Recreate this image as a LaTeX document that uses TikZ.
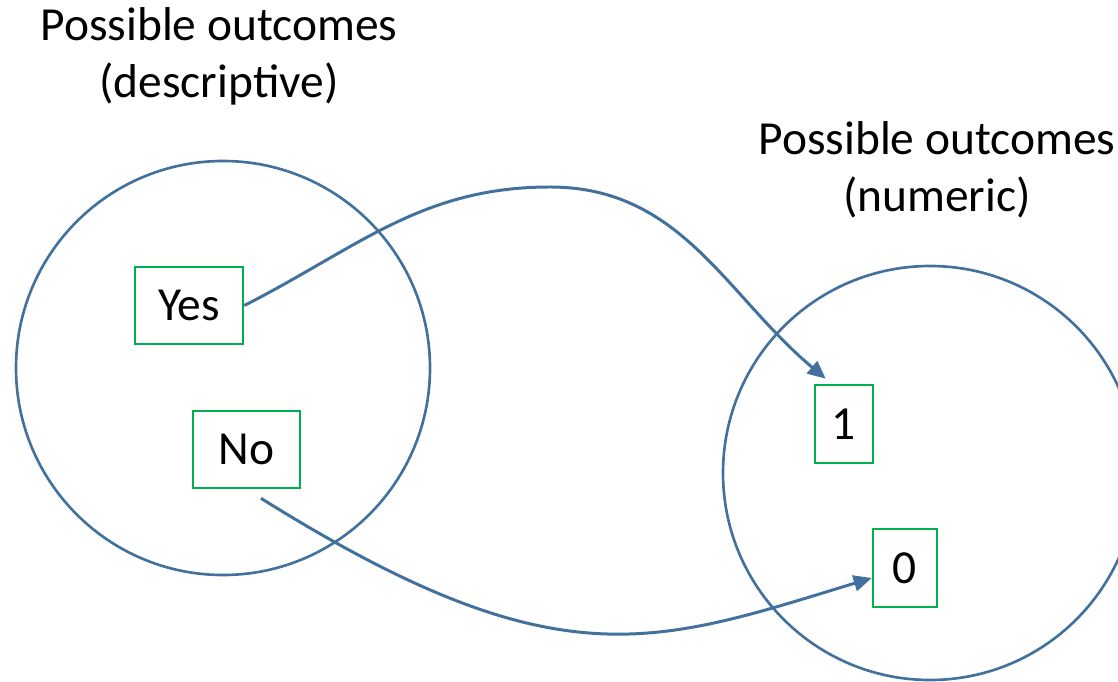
\documentclass[tikz,border=0pt]{standalone}
\usepackage{fontspec}
\setmainfont{Carlito}
\usepackage{tikz}
\usetikzlibrary{arrows.meta,positioning,calc}
\usepackage{xcolor}
\definecolor{setblue}{HTML}{41719C}
\definecolor{boxgreen}{HTML}{00B050}

\tikzset{
    outset/.style={draw=setblue,line width=0.75pt},
    valbox/.style={draw=boxgreen,line width=0.75pt,inner sep=0pt,
        font=\fontsize{13.5}{16.2}\selectfont},
    maparrow/.style={draw=setblue,line width=0.85pt,-{Triangle[length=1.8mm,width=1.6mm]}},
    settitle/.style={align=center,font=\fontsize{13.5}{16.2}\selectfont}
}

\begin{document}
\begin{tikzpicture}
\useasboundingbox (0,0) rectangle (11.18,6.81);
\begin{scope}
    \clip (0,0) rectangle (11.18,6.81);
    % the two sets
    \draw[outset] (2.23,3.13) circle (2.07);
    \draw[outset] (9.30,2.08) circle (2.07);
\end{scope}
    \node[settitle] (desc) at (2.19,6.25) {Possible outcomes\\(descriptive)};
    \node[settitle] (numr) at (9.37,5.11) {Possible outcomes\\(numeric)};
    % values
    \node[valbox,minimum width=1.08cm,minimum height=0.77cm] (yes) at (1.89,3.755) {Yes};
    \node[valbox,minimum width=1.07cm,minimum height=0.77cm] (no) at (2.465,2.315) {No};
    \node[valbox,minimum width=0.58cm,minimum height=0.78cm] (one) at (8.44,2.57) {1};
    \node[valbox,minimum width=0.64cm,minimum height=0.78cm] (zero) at (9.05,1.13) {0};
    % mapping
    \coordinate (crest) at (5.50,4.94);
    \draw[maparrow] (yes.east) to[out=27,in=180] (crest)
        to[out=0,in=140] ([shift={(0.12,0.05)}]one.north west);
    \draw[maparrow] ([shift={(0.145,-0.09)}]no.south)
        to[out=-32,in=197,out looseness=1.45,in looseness=0.95] ([yshift=-0.10cm]zero.west);
\end{tikzpicture}
\end{document}
